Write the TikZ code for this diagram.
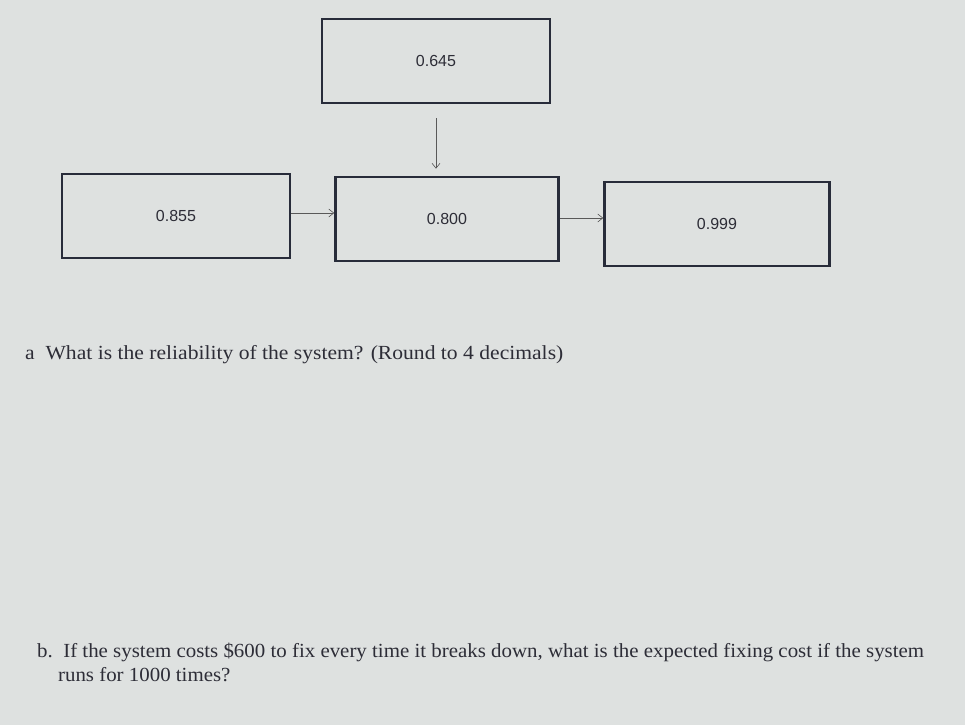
\documentclass[tikz,border=0pt]{standalone}
\usepackage{fontspec}
\setmainfont{Liberation Serif}
\newfontfamily\boxfont{Liberation Sans}
\usetikzlibrary{arrows.meta}
\definecolor{bg}{RGB}{222,225,224}
\definecolor{edge}{RGB}{40,44,58}
\definecolor{txt}{RGB}{45,45,55}
\tikzset{
  blk/.style={draw=edge, line width=2.6pt, minimum width=#1, minimum height=84pt, inner sep=0pt, font=\boxfont\fontsize{16}{19}\selectfont, text=txt},
  blk/.default=226pt,
  conn/.style={draw=gray!70!black, line width=0.6pt, -{Straight Barb[length=5pt,width=8pt]}},
  q/.style={anchor=west, font=\fontsize{20}{24}\selectfont, text=txt, inner sep=0pt, align=left}
}
\begin{document}
\begin{tikzpicture}[x=1pt,y=-1pt]
\fill[bg] (0,0) rectangle (965,725);
\useasboundingbox (0,0) rectangle (965,725);
\node[blk=228pt] (top) at (436,61) {0.645};
\node[blk=228pt] (left) at (176,216) {0.855};
\node[blk=223pt] (mid) at (447,219) {0.800};
\node[blk=225pt] (right) at (717,224) {0.999};
\draw[conn, shorten <=14pt, shorten >=7pt] (top.south) -- (top.south |- mid.north);
\draw[conn] (left.east |- 0,213) -- (mid.west |- 0,213);
\draw[conn] (mid.east |- 0,218) -- (right.west |- 0,218);
\node[q] (qa) at (25,355) {\scalebox{1.08}[1]{a\ \ What is the reliability of the system? (Round to 4 decimals)}};
\node[q, anchor=north west] (qb) at (37,640) {\scalebox{1.045}[1]{\begin{tabular}{@{}l@{}}b.\ \ If the system costs \$600 to fix every time it breaks down, what is the expected fixing cost if the system\\ \ \ \ \ runs for 1000 times?\end{tabular}}};
\end{tikzpicture}
\end{document}
